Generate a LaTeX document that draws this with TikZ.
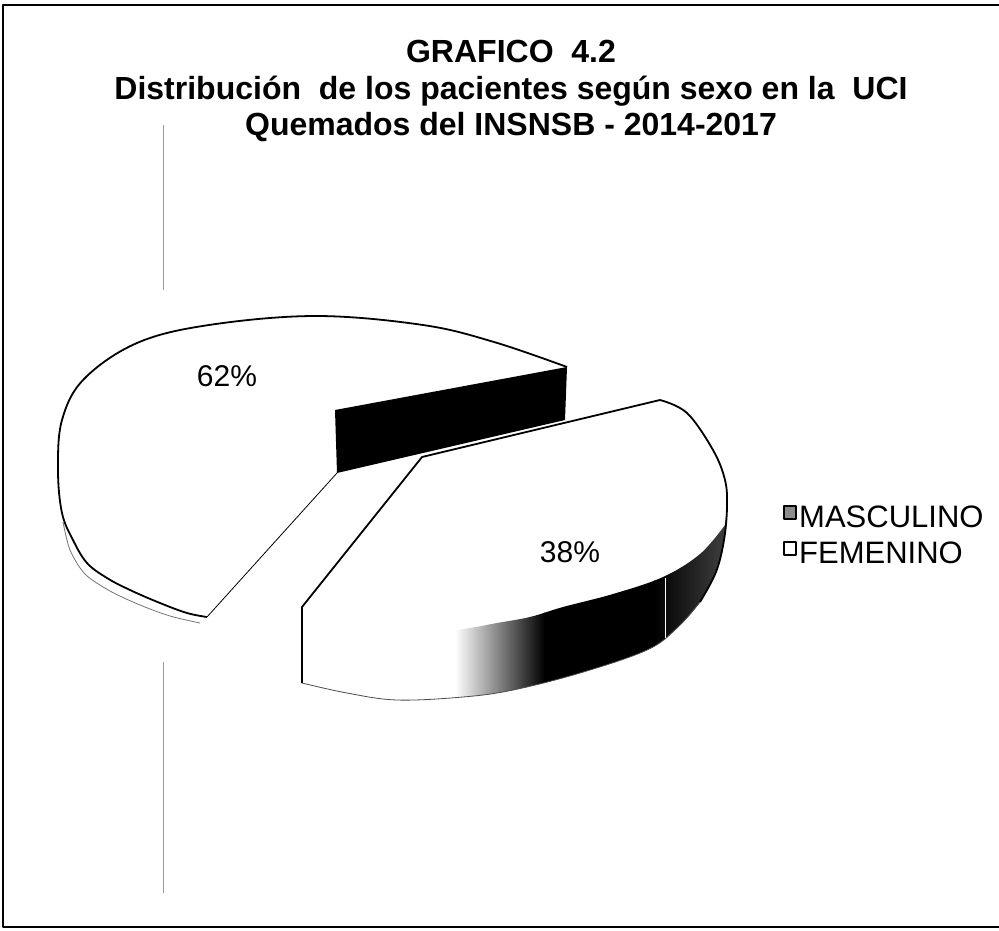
\documentclass[tikz,border=0pt]{standalone}
\usepackage{fontspec}
\setmainfont{Liberation Sans}
\begin{document}
\begin{tikzpicture}[x=1pt, y=-1pt, line join=round,
    rim/.style={line width=1.8pt},
    thinrim/.style={line width=0.8pt, black!70},
    ttl/.style={font=\bfseries\fontsize{32}{32}\selectfont, anchor=base, inner sep=0pt},
    pct/.style={font=\fontsize{30}{30}\selectfont, inner sep=0pt},
    leg/.style={font=\fontsize{31}{31}\selectfont, anchor=base west, inner sep=0pt},
    mark box/.style={line width=1.5pt, draw=black}]
\useasboundingbox (0,0) rectangle (999,931);

% frame
\draw[line width=1.5pt] (999,5) -- (3,5) -- (3,927) -- (999,927);
\draw[black!40, line width=0.6pt] (163,125) -- (163,290);
\draw[black!40, line width=0.6pt] (163,662) -- (163,893);

% title
\node[ttl] (tit1) at (511,63) {GRAFICO\ \ 4.2};
\node[ttl] (tit2) at (511,100) {Distribución\ \ de los pacientes según sexo en la\ \ UCI};
\node[ttl] (tit3) at (511,136) {Quemados del INSNSB - 2014-2017};

% slice 62 begin
\fill[white] plot[smooth, tension=0.6] coordinates {(567,367) (494,342) (423,325) (316,316) (209,325) (137,343) (84,379) (62,420) (58,470) (62,513) (73,540) (87,563) (107,578) (130,590) (160,603) (187,613) (207,617)} -- (337,473) -- (335,410) -- cycle;
\fill[black] (335,410) -- (567,367) -- (565,420) -- (337,473) -- cycle;
\draw[thinrim, black!55] plot[smooth] coordinates {(63,522) (70,550) (85,574) (110,591) (140,605) (170,616) (200,623)};
\draw[rim] plot[smooth, tension=0.6] coordinates {(567,367) (494,342) (423,325) (316,316) (209,325) (137,343) (84,379) (62,420) (58,470) (62,513) (73,540) (87,563) (107,578) (130,590) (160,603) (187,613) (207,617)};
\draw[line width=0.8pt] (207,617) -- (337,473);
% slice 62 end

% slice 38 begin
\fill[white] (422,457) -- (660,400) -- plot[smooth, tension=0.6] coordinates {(660,400) (687,413) (713,450) (725,480) (727,507) (724,540) (716,572) (700,602) (677,628) (647,650) (580,673) (513,690) (463,697) (397,700) (347,693) (302,683)} -- (302,607) -- cycle;
\begin{scope}
  \clip plot[smooth, tension=0.6] coordinates {(725,525) (700,554) (663,577) (613,594) (563,607) (530,617) (497,623) (470,628) (430,634) (380,640) (302,646)} -- (302,683) -- plot[smooth, tension=0.6] coordinates {(302,683) (347,693) (397,700) (463,697) (513,690) (580,673) (647,650) (677,628) (700,602) (716,572) (724,540) (727,507)} -- cycle;
  \shade[left color=white, right color=black] (455,500) rectangle (545,710);
  \fill[black] (544,500) rectangle (655,710);
  \shade[left color=black, right color=black!72] (654,500) rectangle (735,710);
\end{scope}
\draw[white, line width=0.6pt] (665,578) -- (665,640);
\draw[rim] (302,683) -- (302,607) -- (422,457) -- (660,400) -- plot[smooth, tension=0.6] coordinates {(660,400) (687,413) (713,450) (725,480) (727,507) (724,540) (716,572) (700,602)};
\draw[thinrim] plot[smooth, tension=0.6] coordinates {(700,602) (677,628) (647,650) (580,673) (513,690) (463,697) (397,700) (347,693) (302,683)};
% slice 38 end

\node[pct] (p62) at (227,376) {62\%};
\node[pct] (p38) at (570,552) {38\%};

% legend
\draw[mark box, fill=black!45] (784,506) rectangle (796,519);
\node[leg] (legM) at (799,527) {MASCULINO};
\draw[mark box, fill=white] (784,542) rectangle (796,555);
\node[leg] (legF) at (799,563) {FEMENINO};
\end{tikzpicture}
\end{document}
